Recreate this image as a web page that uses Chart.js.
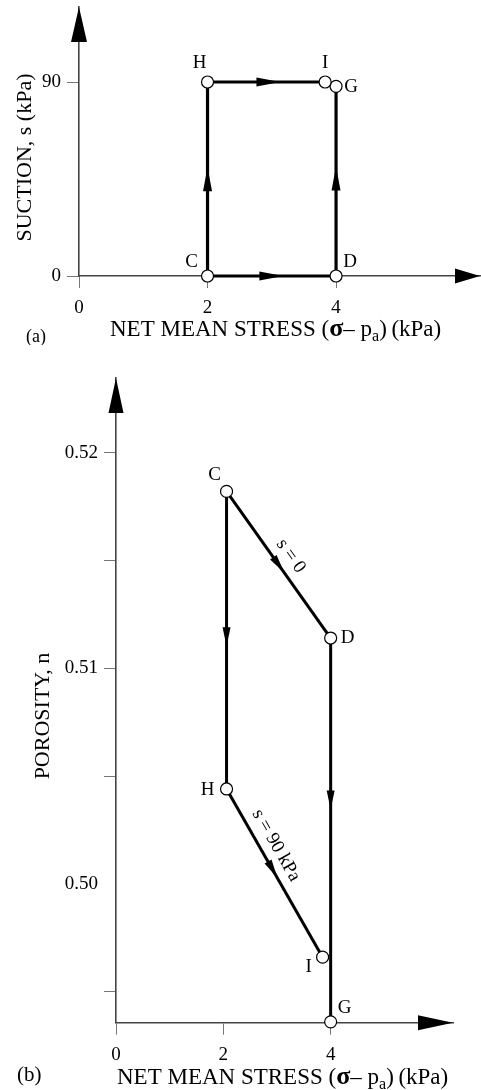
<!DOCTYPE html>
<html><head><meta charset="utf-8">
<script src="https://cdn.jsdelivr.net/npm/chart.js@4.4.1/dist/chart.umd.min.js"></script>
<style>
html,body{margin:0;padding:0;background:#fff;}
body{width:481px;height:1090px;overflow:hidden;position:relative;}
#ca{position:absolute;left:0;top:0;}
#cb{position:absolute;left:0;top:368px;}
</style></head>
<body>
<canvas id="ca" width="481" height="345"></canvas>
<canvas id="cb" width="481" height="722"></canvas>
<script>
// ---------------- DATA: panel (a) suction vs net mean stress ----------------
const aNames   = ['C', 'D', 'G', 'H', 'I'];
const aStress  = [2, 4, 4, 2, 3.83];
const aSuction = [0, 0, 88, 90, 90];
const aPathFrom = ['C', 'D', 'C', 'H'];
const aPathTo   = ['D', 'G', 'H', 'I'];
const aXTicks = [0, 2, 4];
const aXTickLabels = ['0', '2', '4'];
const aYTicks = [0, 90];
const aYTickLabels = ['0', '90'];

// ---------------- DATA: panel (b) porosity vs net mean stress ----------------
const bNames    = ['C', 'D', 'G', 'H', 'I'];
const bStress   = [2.06, 4.0, 4.0, 2.06, 3.85];
const bPorosity = [0.5182, 0.5114, 0.4936, 0.5044, 0.4966];
const bPathFrom = ['C', 'D', 'C', 'H'];
const bPathTo   = ['D', 'G', 'H', 'I'];
const bPathLabels = ['s = 0', '', '', 's = 90 kPa'];
const bXTicks = [0, 2, 4];
const bXTickLabels = ['0', '2', '4'];
const bYTicks = [0.495, 0.50, 0.505, 0.51, 0.515, 0.52];
const bYTickLabels = ['', '0.50', '', '0.51', '', '0.52'];

// ---------------- TEXT ----------------
const xTitleParts = ['NET MEAN STRESS (', 'σ', '– p', 'a', ')\u2009(kPa)'];
const aYTitle = 'SUCTION, s (kPa)';
const bYTitle = 'POROSITY, n';

// ---------------- STYLE ----------------
const FONT = "'Liberation Serif','Times New Roman',serif";

const styleA = {
  range: {xmin: 0, xmax: 6.24, ymin: 0, ymax: 124.8},
  padding: {left: 0, right: 1, top: 7, bottom: 0},
  yWidth: 79, xHeight: 69,
  labelOffset: {C: [-16, -14], D: [14, -14], G: [15, 1], H: [-8, -19], I: [0, -19]},
  arrowAt: [0.59, 0.577, 0.56, 0.62],
  arrowLen: 24, arrowHW: 4.5, lineWidth: 3.2,
  yArrow: {len: 35, hw: 8}, xArrow: {len: 25, hw: 7.5},
  panel: {text: '(a)', x: 26, y: 342, size: 18},
  xTitle: {x: 110, y: 336},
  yTitle: {text: aYTitle, x: 25, y: 157.5},
  pathLabels: null
};
const styleB = {
  range: {xmin: 0, xmax: 6.28, ymin: 0.49356, ymax: 0.52346},
  padding: {left: 0, right: 28, top: 10, bottom: 0},
  yWidth: 116, xHeight: 67.3,
  labelOffset: {C: [-12, -16], D: [17, 0], G: [14, -14], H: [-19, 1], I: [-14, 10]},
  arrowAt: [0.555, 0.447, 0.52, 0.53],
  arrowLen: 19, arrowHW: 4, lineWidth: 3,
  yArrow: {len: 35, hw: 7.5}, xArrow: {len: 35, hw: 7.5},
  panel: {text: '(b)', x: 17, y: 1081 - 368, size: 21},
  xTitle: {x: 117, y: 1084 - 368},
  yTitle: {text: bYTitle, x: 43, y: 716 - 368},
  pathLabels: {texts: bPathLabels, t: [0.5, 0, 0, 0.38], d: [15, 0, 0, 15]}
};

function arrowHead(ctx, tx, ty, ux, uy, len, hw) {
  const bx = tx - ux * len, by = ty - uy * len;
  ctx.beginPath();
  ctx.moveTo(tx, ty);
  ctx.lineTo(bx - uy * hw, by + ux * hw);
  ctx.lineTo(bx + uy * hw, by - ux * hw);
  ctx.closePath();
  ctx.fill();
}

function drawXTitle(ctx, x, y) {
  const fonts = [`23px ${FONT}`, `bold 26px ${FONT}`, `23px ${FONT}`, `16px ${FONT}`, `23px ${FONT}`];
  const dys = [0, 0, 0, 5, 0];
  ctx.textAlign = 'left';
  ctx.textBaseline = 'alphabetic';
  let cx = x;
  xTitleParts.forEach((t, i) => {
    ctx.font = fonts[i];
    ctx.fillText(t, cx, y + dys[i]);
    cx += ctx.measureText(t).width;
  });
}

function makePlugin(st, names, pathFrom, pathTo) {
  return {
    id: 'annot',
    afterDatasetsDraw(chart) {
      const ctx = chart.ctx;
      ctx.save();
      ctx.fillStyle = '#000';
      pathFrom.forEach((f, i) => {
        const meta = chart.getDatasetMeta(i + 1);
        const p1 = meta.data[0], p2 = meta.data[1];
        const dx = p2.x - p1.x, dy = p2.y - p1.y, L = Math.hypot(dx, dy);
        const ux = dx / L, uy = dy / L;
        const t = st.arrowAt[i];
        arrowHead(ctx, p1.x + dx * t, p1.y + dy * t, ux, uy, st.arrowLen, st.arrowHW);
        if (st.pathLabels && st.pathLabels.texts[i]) {
          const tt = st.pathLabels.t[i], d = st.pathLabels.d[i];
          const cx = p1.x + dx * tt + uy * d, cy = p1.y + dy * tt - ux * d;
          ctx.save();
          ctx.translate(cx, cy);
          ctx.rotate(Math.atan2(dy, dx));
          ctx.font = `19px ${FONT}`;
          ctx.textAlign = 'center';
          ctx.textBaseline = 'middle';
          ctx.fillText(st.pathLabels.texts[i], 0, 0);
          ctx.restore();
        }
      });
      ctx.restore();
    },
    afterDraw(chart) {
      const ctx = chart.ctx;
      const a = chart.chartArea;
      ctx.save();
      ctx.fillStyle = '#000';
      arrowHead(ctx, a.left, a.top, 0, -1, st.yArrow.len, st.yArrow.hw);
      arrowHead(ctx, a.right, a.bottom, 1, 0, st.xArrow.len, st.xArrow.hw);
      const meta = chart.getDatasetMeta(0);
      ctx.font = `19px ${FONT}`;
      ctx.textAlign = 'center';
      ctx.textBaseline = 'middle';
      names.forEach((n, i) => {
        const p = meta.data[i];
        const o = st.labelOffset[n];
        ctx.fillText(n, p.x + o[0], p.y + o[1]);
      });
      ctx.textAlign = 'left';
      ctx.textBaseline = 'alphabetic';
      ctx.font = `${st.panel.size}px ${FONT}`;
      ctx.fillText(st.panel.text, st.panel.x, st.panel.y);
      drawXTitle(ctx, st.xTitle.x, st.xTitle.y);
      ctx.save();
      ctx.translate(st.yTitle.x, st.yTitle.y);
      ctx.rotate(-Math.PI / 2);
      ctx.font = `22px ${FONT}`;
      ctx.textAlign = 'center';
      ctx.textBaseline = 'middle';
      ctx.fillText(st.yTitle.text, 0, 0);
      ctx.restore();
      ctx.restore();
    }
  };
}

function build(canvasId, st, names, xs, ys, pathFrom, pathTo, xTicks, xLabels, yTicks, yLabels, hideYTick) {
  const idx = n => names.indexOf(n);
  const datasets = [{
    data: names.map((n, i) => ({x: xs[i], y: ys[i]})),
    showLine: false,
    pointRadius: 6,
    pointBackgroundColor: '#fff',
    pointBorderColor: '#000',
    pointBorderWidth: 1.2,
    clip: false,
    order: 0
  }];
  pathFrom.forEach((f, i) => {
    const a = idx(f), b = idx(pathTo[i]);
    datasets.push({
      data: [{x: xs[a], y: ys[a]}, {x: xs[b], y: ys[b]}],
      showLine: true,
      borderColor: '#000',
      borderWidth: st.lineWidth,
      pointRadius: 0,
      clip: false,
      order: 1
    });
  });
  const zeroPad = s => { s.paddingTop = 0; s.paddingBottom = 0; s.paddingLeft = 0; s.paddingRight = 0; };
  const axisCommon = {
    type: 'linear',
    grid: {display: true, drawOnChartArea: false, drawTicks: true, tickLength: 12, tickWidth: 1,
           tickColor: '#777'},
    border: {display: true, color: '#444', width: 1.6},
    title: {display: false}
  };
  return new Chart(document.getElementById(canvasId), {
    type: 'scatter',
    data: {datasets},
    options: {
      responsive: false,
      animation: false,
      events: [],
      layout: {padding: st.padding, autoPadding: false},
      plugins: {legend: {display: false}, tooltip: {enabled: false}},
      scales: {
        x: Object.assign({}, axisCommon, {
          position: 'bottom',
          min: st.range.xmin, max: st.range.xmax,
          afterBuildTicks: s => { s.ticks = xTicks.map(v => ({value: v})); },
          afterFit: s => { s.height = st.xHeight; zeroPad(s); },
          ticks: {font: {family: FONT, size: 19}, color: '#000', padding: 9, maxRotation: 0, autoSkip: false,
                  callback: (v, i) => xLabels[i]}
        }),
        y: Object.assign({}, axisCommon, {
          position: 'left',
          min: st.range.ymin, max: st.range.ymax,
          grid: Object.assign({}, axisCommon.grid, {
            tickColor: c => (hideYTick !== null && c.tick && Math.abs(c.tick.value - hideYTick) < 1e-9) ? 'rgba(0,0,0,0)' : '#777'
          }),
          afterBuildTicks: s => { s.ticks = yTicks.map(v => ({value: v})); },
          afterFit: s => { s.width = st.yWidth; zeroPad(s); },
          ticks: {font: {family: FONT, size: 19}, color: '#000', padding: 6, autoSkip: false,
                  callback: (v, i) => yLabels[i]}
        })
      }
    },
    plugins: [makePlugin(st, names, pathFrom, pathTo)]
  });
}

build('ca', styleA, aNames, aStress, aSuction, aPathFrom, aPathTo, aXTicks, aXTickLabels, aYTicks, aYTickLabels, null);
build('cb', styleB, bNames, bStress, bPorosity, bPathFrom, bPathTo, bXTicks, bXTickLabels, bYTicks, bYTickLabels, 0.50);
</script>
</body></html>
